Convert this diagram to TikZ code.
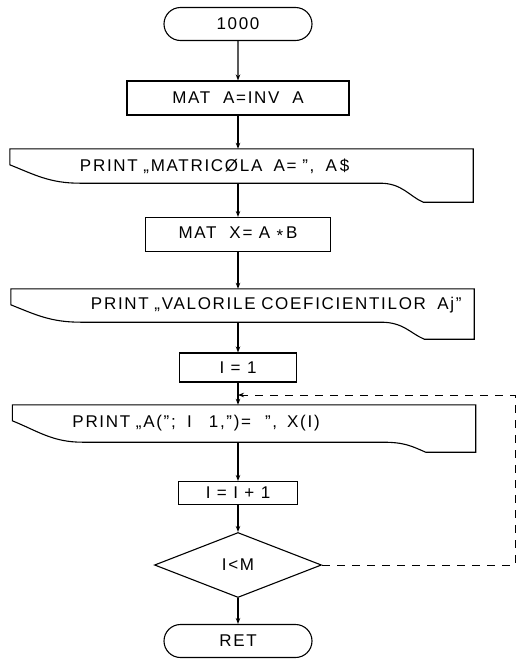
\documentclass[tikz,border=0pt]{standalone}
\usepackage{fontspec}
\usetikzlibrary{shapes.geometric,shapes.misc,arrows.meta,calc}
\newfontfamily\flowfont[LetterSpace=10]{Liberation Sans}
\tikzset{
  line/.style={draw=black,line width=1.1pt},
  arr/.style={line,-{Stealth[length=6pt,width=4.5pt]}},
  term/.style={rounded rectangle,line,inner sep=0pt,minimum width=148pt,minimum height=33pt},
  opbox/.style={rectangle,line,inner sep=0pt,minimum height=34pt},
  printbox/.style={rectangle,inner sep=0pt,minimum width=463pt,text width=463pt,
    minimum height=34pt,align=left,execute at begin node={\hspace*{#1}}},
  printbox/.default=70pt,
  test/.style={diamond,line,inner sep=0pt,minimum width=167pt,minimum height=65pt},
  loopline/.style={line,line width=0.8pt,dash pattern=on 8pt off 7pt},
}
% outline of a print (document) symbol around a node; #2 = dip of the right end
\newcommand\printoutline[2]{%
  \draw[line] (#1.north west) -- ++(0,16)
    .. controls +(25,10) and +(-30,0) .. ($(#1.south west)+(70,0)$)
    -- ($(#1.south east)+(-93,0)$)
    .. controls +(22,0) and +(-14,-6) .. ($(#1.south east)+(-50,#2)$)
    -- ($(#1.south east)+(0,#2)$) -- (#1.north east) -- cycle;}

\begin{document}
\begin{tikzpicture}[x=1pt,y=-1pt,font=\flowfont\fontsize{17}{20}\selectfont]
  \useasboundingbox (0,0) rectangle (525,659);

  \node[term] (start) at (238,24) {1000};
  \node[opbox,minimum width=222pt] (matinv) at (238,98) {MAT\ \ A=INV\ \ A};
  \node[printbox] (prmat) at (241.5,166) {PRINT „MATRICØLA\ \ A= ”,\ \ A\,\$};
  \node[opbox,minimum width=185pt] (matmul) at (238,234.5)
    {MAT\ \ X= A \raisebox{-.35ex}{*}\,B};
  \node[printbox=80pt,minimum height=33pt] (prval) at (242.5,305.5)
    {PRINT „VALORILE COEFICIENTILOR\ \ Aj”};
  \node[opbox,minimum width=117pt,minimum height=29pt] (init) at (238,367.5) {I = 1};
  \node[printbox=60pt,minimum height=37pt] (prelem) at (244,423.5)
    {PRINT „A(”;\ \ I\ \ \ 1,”)=\hspace{14pt}”,\hspace{10pt}X(I)};
  \node[opbox,minimum width=119pt,minimum height=23pt] (incr) at (238,493) {I = I + 1};
  \node[test] (cond) at (238,565) {I<M};
  \node[term] (stop) at (238,641) {RET};

  \printoutline{prmat}{19}
  \printoutline{prval}{17}
  \printoutline{prelem}{10}

  % main flow
  \draw[arr] (start) -- (matinv);
  \draw[arr] (matinv) -- (matinv |- prmat.north);
  \draw[arr] (matinv |- prmat.south) -- (matmul);
  \draw[arr] (matmul) -- (matmul |- prval.north);
  \draw[arr] (matmul |- prval.south) -- (init);
  \draw[arr] (init) -- (init |- prelem.north);
  \draw[arr] (init |- prelem.south) -- (incr);
  \draw[arr] (incr) -- (cond);
  \draw[arr] (cond) -- (stop);

  % loop back while I<M
  \coordinate (loopc) at (515,395);
  \draw[loopline,-{Stealth[length=6pt,width=4.5pt]}] (cond.east) -- (cond.east -| loopc)
    -- (loopc) -- (loopc -| init);
\end{tikzpicture}
\end{document}
